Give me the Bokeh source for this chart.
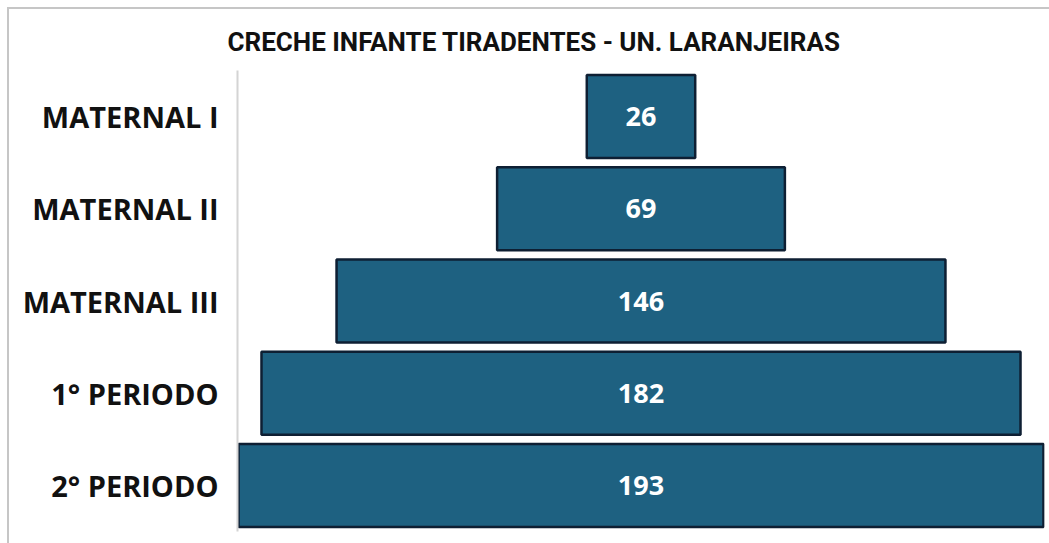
from bokeh.plotting import figure
from bokeh.models import Range1d, FactorRange, ColumnDataSource, Title, LabelSet
from bokeh.core.properties import value
from bokeh.embed import file_html
from bokeh.resources import INLINE

categories = ["MATERNAL I", "MATERNAL II", "MATERNAL III", "1° PERIODO", "2° PERIODO"]
values = [26, 69, 146, 182, 193]
title_text = "CRECHE INFANTE TIRADENTES - UN. LARANJEIRAS"

half = [v / 2 for v in values]
src = ColumnDataSource(dict(
    cat=categories,
    val=values,
    left=[-h for h in half],
    right=half,
    center=[0] * len(values),
    label=[str(v) for v in values],
))

p = figure(
    width=1049, height=543,
    output_backend="svg", toolbar_location=None,
    y_range=FactorRange(factors=categories[::-1], range_padding=0),
    x_range=Range1d(-96.75, 96.75),
    x_axis_location=None,
    min_border_left=237, min_border_right=5,
    min_border_top=70, min_border_bottom=12,
)
p.title = None
t = Title(text=title_text, align="left", offset=-10,
          text_font="Roboto", text_font_size="26px",
          text_font_style="bold", text_color="#111111", standoff=27)
p.add_layout(t, "above")

p.border_fill_alpha = 0
p.styles = {
    "background": "linear-gradient(#c6c6c6, #c6c6c6) 7px 7px / 100% 2px no-repeat, "
                  "linear-gradient(#c6c6c6, #c6c6c6) 7px 7px / 2px 100% no-repeat, white"
}

p.hbar(y="cat", left="left", right="right", height=0.9, source=src,
       fill_color="#1e6181", line_color="#0e1f33", line_width=2.5)
labels = LabelSet(x="center", y="cat", text="label", source=src,
                  text_align="center", text_baseline="middle",
                  text_font=value("Open Sans"), text_font_size=value("27px"),
                  text_font_style="bold", text_color="white")
p.add_layout(labels)

p.grid.visible = False
p.outline_line_color = None
ax = p.yaxis[0]
ax.axis_line_color = "#d4d4d4"
ax.axis_line_width = 2
ax.major_tick_line_color = None
ax.minor_tick_line_color = None
ax.major_tick_out = 0
ax.major_tick_in = 0
ax.major_label_standoff = 19
ax.major_label_text_font = "Open Sans"
ax.major_label_text_font_size = "29px"
ax.major_label_text_font_style = "bold"
ax.major_label_text_color = "#111111"

open("out.html", "w").write(file_html(p, INLINE))
